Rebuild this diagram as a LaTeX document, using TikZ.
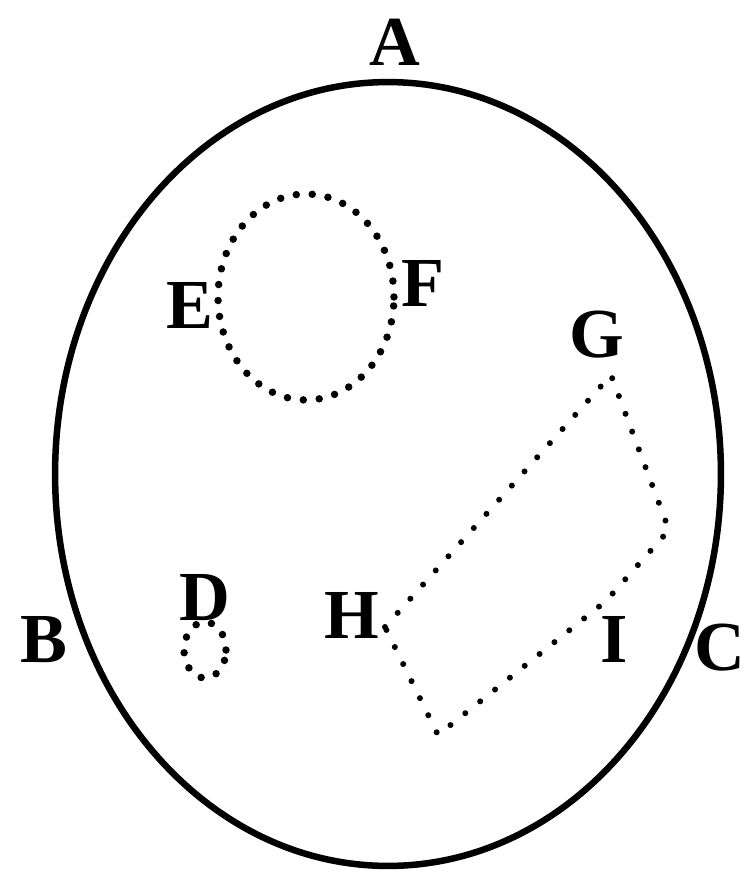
\documentclass[tikz,border=0pt]{standalone}
\usepackage{fontspec}
\setmainfont{Liberation Serif}
\usepackage{xcolor}

\begin{document}
\begin{tikzpicture}[x=0.02cm,y=-0.02cm,
  lbl/.style={font=\fontsize{40}{40}\selectfont\bfseries, inner sep=0pt},
  dotline/.style={line width=0.15cm, line cap=round, dash pattern=on 0pt off 0.32cm},
  finedot/.style={line width=0.12cm, line cap=round, dash pattern=on 0pt off 0.38cm}]
  \useasboundingbox (0,0) rectangle (756,888);
  \coordinate (O) at (388,474); \coordinate (EF) at (306,297);
  \coordinate (Dc) at (205,650);
  \coordinate (G) at (611,375); \coordinate (K) at (669,530);
  \coordinate (I) at (606,601); \coordinate (L) at (438,735);
  \coordinate (H) at (385,627);
  \draw[line width=0.13cm] (O) ellipse [x radius=6.66cm, y radius=7.84cm];
  \draw[dotline] (EF) ellipse [x radius=1.76cm, y radius=2.06cm];
  \draw[dotline] (Dc) ellipse [x radius=0.42cm, y radius=0.56cm];
  \draw[finedot] (H)--(G)--(K)--(I)--(L)--cycle;
  \node[lbl] (a) at (395,42){A}; \node[lbl] (b) at (44,640){B};
  \node[lbl] (c) at (720,648){C}; \node[lbl] (d) at (205,598){D};
  \node[lbl] (e) at (190,305){E}; \node[lbl] (f) at (423,283){F};
  \node[lbl] (g) at (597,335){G}; \node[lbl] (h) at (352,615){H};
  \node[lbl] (i) at (614,639){I};
\end{tikzpicture}
\end{document}
